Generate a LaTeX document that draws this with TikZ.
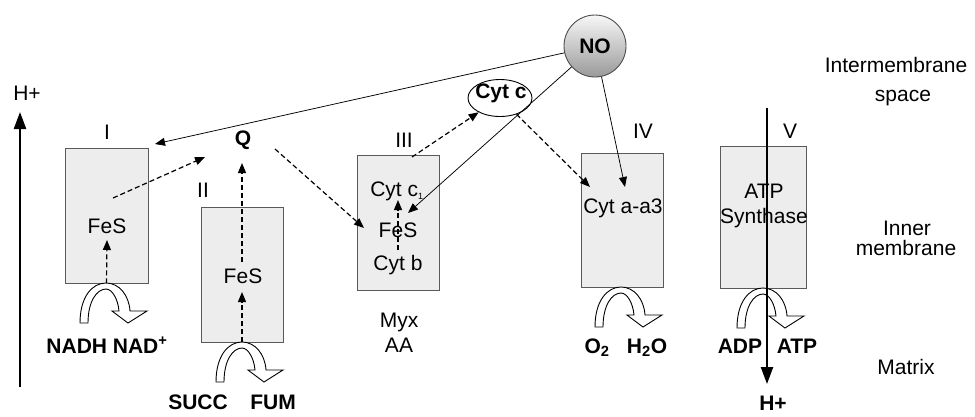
\documentclass[tikz,border=0pt]{standalone}
\usepackage{fontspec}
\setmainfont{Liberation Sans}
\usetikzlibrary{arrows.meta,shapes.geometric}
\begin{document}
\begin{tikzpicture}[x=1pt,y=-1pt,
  cbox/.style={draw=black!65, fill=black!7, line width=0.9pt, inner sep=0pt},
  lbl/.style={anchor=base, inner sep=0pt, font=\fontsize{21}{24}\selectfont},
  blbl/.style={anchor=base, inner sep=0pt, font=\fontsize{21}{24}\selectfont\bfseries},
  solidarr/.style={-{Triangle[length=10pt,width=8pt]}, line width=0.75pt},
  dasharr/.style={-{Triangle[length=10pt,width=8pt]}, line width=1.2pt, dash pattern=on 5pt off 3pt},
  proton/.style={-{Triangle[length=17pt,width=12pt]}, line width=2.3pt},
  turnarrow/.pic={
    \draw[line width=0.9pt, fill=white, line join=miter]
      (-27,40) .. controls (-27,14) and (-15,0) .. (-1,0)
      .. controls (12,0) and (22,12) .. (23,28)
      -- (40,28) -- (21,40) -- (5,28) -- (12,28)
      .. controls (11,16) and (5,6) .. (-1,6)
      .. controls (-10,6) and (-19,18) .. (-19,40) -- cycle;
  }]
\useasboundingbox (0,0) rectangle (975,416);

% complexes
\node[cbox, minimum width=83pt, minimum height=135pt] (b1) at (106.5,215.5) {};
\node[cbox, minimum width=82pt, minimum height=135pt] (b2) at (242,274.5) {};
\node[cbox, minimum width=82pt, minimum height=135pt] (b3) at (398,222.5) {};
\node[cbox, minimum width=82pt, minimum height=134pt] (b4) at (622,220) {};
\node[cbox, minimum width=86pt, minimum height=142pt] (b5) at (763,217) {};

% roman labels
\node[lbl] (l1) at (107,139) {I};
\node[lbl] (l2) at (203,197) {II};
\node[lbl] (l3) at (404,147) {III};
\node[lbl] (l4) at (643,138) {IV};
\node[lbl] (l5) at (790,138) {V};

% inner texts
\node[lbl] (fes1) at (107,233) {FeS};
\node[lbl] (fes2) at (243,283) {FeS};
\node[lbl] (cytc1) at (397,196) {Cyt c\textsubscript{\fontsize{9}{10}\selectfont 1}};
\node[lbl] (fes3) at (398,237) {FeS};
\node[lbl] (cytb) at (398,270) {Cyt b};
\node[lbl] (cytaa3) at (623,213) {Cyt a-a3};
\node[lbl] (atps1) at (764,198) {ATP};
\node[lbl] (atps2) at (764,223) {Synthase};
\node[blbl] (q) at (243,145) {Q};
\node[lbl] (myx) at (399,327) {Myx};
\node[lbl] (aa) at (399,352) {AA};

% NO and Cyt c
\node[circle, draw=black!70, line width=0.9pt, top color=black!3, bottom color=black!40,
      minimum size=62pt, inner sep=0pt] (no) at (595,46) {};
\node[blbl, anchor=center] (notext) at (595,46) {NO};
\node[ellipse, draw=black, line width=0.9pt, fill=white, minimum width=64pt,
      minimum height=37pt, inner sep=0pt] (cytc) at (500,98) {};
\node[blbl, anchor=center] (cytctext) at (501,93) {Cyt c};

% substrates
\node[blbl] (nadh) at (107,353) {NADH NAD\textsuperscript{+}};
\node[blbl] (succ) at (198,409) {SUCC};
\node[blbl] (fum) at (273,409) {FUM};
\node[blbl] (o2) at (597,353) {O\textsubscript{2}};
\node[blbl] (h2o) at (647,353) {H\textsubscript{2}O};
\node[blbl] (adp) at (740,353) {ADP};
\node[blbl] (atp) at (797,353) {ATP};

% right side labels
\node[lbl] (ims1) at (896,72) {Intermembrane};
\node[lbl] (ims2) at (903,101) {space};
\node[lbl] (im1) at (907,235) {Inner};
\node[lbl] (im2) at (906,255) {membrane};
\node[lbl] (mat) at (906,374) {Matrix};

% proton labels
\node[lbl] (hl) at (27,100.5) {H+};
\node[blbl] (hr) at (773,410) {H+};

% coordinates
\coordinate (tI) at (155,144);
\coordinate (t3fes) at (408,213);
\coordinate (t4a) at (625,187);
\coordinate (t4b) at (590,187);
\coordinate (s3) at (412,157);
\coordinate (sI) at (113,198);
\coordinate (tQ1) at (205,157);
\coordinate (tI2) at (107,240);
\coordinate (tII) at (242,292);
\coordinate (sII) at (242,262);
\coordinate (tQ2) at (242,163);
\coordinate (sQ) at (275,149);
\coordinate (tIII) at (364,228);
\coordinate (sb) at (398,250);
\coordinate (tc1) at (398,200);
\coordinate (hlb) at (20,387);
\coordinate (hlt) at (20,112);
\coordinate (hrt) at (767,108);
\coordinate (hrb) at (767,384);

% NO connectors
\draw[solidarr] (no) -- (tI);
\draw[solidarr] (no) -- (t3fes);
\draw[solidarr] (no) -- (t4a);

% electron flow
\draw[dasharr] (sI) -- (tQ1);
\draw[dasharr] (b1.south) -- (tI2);
\draw[dasharr] (b2.south) -- (tII);
\draw[dasharr] (sII) -- (tQ2);
\draw[dasharr] (sQ) -- (tIII);
\draw[dasharr] (sb) -- (tc1);
\draw[dasharr] (s3) -- (cytc);
\draw[dasharr] (cytc) -- (t4b);

% turning arrows
\pic at (107,283) {turnarrow};
\pic at (243,342) {turnarrow};
\pic at (622,287) {turnarrow};
\pic at (764,288) {turnarrow};

% proton arrows
\draw[proton] (hlb) -- (hlt);
\draw[proton] (hrt) -- (hrb);
\end{tikzpicture}
\end{document}
